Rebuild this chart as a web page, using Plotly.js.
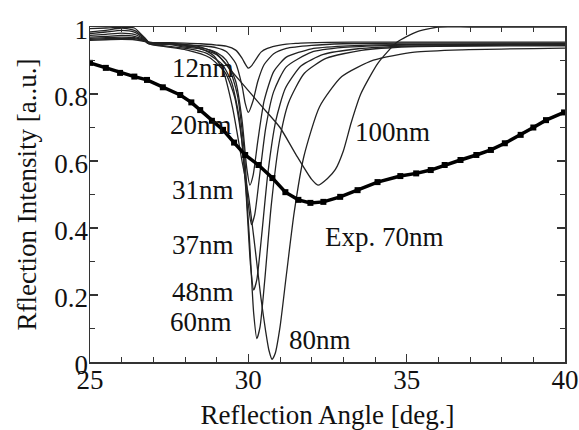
<!DOCTYPE html>
<html>
<head>
<meta charset="utf-8">
<script src="https://cdn.plot.ly/plotly-3.0.1.min.js"></script>
<style>html,body{margin:0;padding:0;background:#fff;}#chart{width:579px;height:430px;}</style>
</head>
<body>
<div id="chart"></div>
<script>
// ---- data ----
const x12 = [25,25.5,26,26.4,26.75,26.85,27.5,28,28.5,29,29.3,29.6,29.8,29.9,30,30.1,30.25,30.4,30.6,31,31.5,32.5,34,37,40];
const y12 = [0.985,0.99,0.997,0.99,0.965,0.955,0.953,0.952,0.95,0.946,0.943,0.931,0.907,0.89,0.877,0.884,0.905,0.925,0.936,0.946,0.951,0.954,0.955,0.955,0.955];

const x20 = [25,25.5,26,26.4,26.75,26.85,27.5,28,28.5,29,29.3,29.6,29.8,29.9,30,30.15,30.3,30.5,30.8,31.2,32,33,35,40];
const y20 = [0.98,0.985,0.99,0.985,0.963,0.954,0.952,0.947,0.944,0.938,0.927,0.892,0.825,0.773,0.745,0.78,0.838,0.888,0.92,0.936,0.945,0.95,0.952,0.952];

const x31 = [25,25.5,26,26.4,26.75,26.85,27.5,28,28.5,29,29.3,29.6,29.8,29.95,30.05,30.15,30.3,30.5,30.8,31.2,32,33,35,40];
const y31 = [0.975,0.978,0.982,0.978,0.961,0.953,0.951,0.943,0.938,0.924,0.901,0.838,0.723,0.579,0.528,0.557,0.66,0.78,0.867,0.91,0.935,0.943,0.948,0.95];

const x37 = [25,25.5,26,26.4,26.75,26.85,27.5,28,28.5,29,29.4,29.65,29.85,30,30.1,30.2,30.35,30.55,30.8,31.2,32,33,35,40];
const y37 = [0.97,0.972,0.975,0.972,0.96,0.952,0.948,0.94,0.934,0.917,0.875,0.799,0.65,0.471,0.41,0.439,0.551,0.699,0.807,0.881,0.925,0.939,0.946,0.948];

const x48 = [25,25.5,26,26.4,26.75,26.85,27.17,28.17,28.67,29.17,29.47,29.72,29.92,30.07,30.17,30.27,30.42,30.62,30.87,31.17,31.67,32.37,33.47,34.97,40];
const y48 = [0.966,0.968,0.97,0.968,0.958,0.951,0.946,0.934,0.922,0.889,0.836,0.724,0.516,0.288,0.215,0.247,0.377,0.566,0.721,0.817,0.884,0.918,0.935,0.943,0.947];

const x60 = [25,25.5,26,26.4,26.75,26.85,26.97,28.07,28.77,29.27,29.57,29.82,30.02,30.17,30.27,30.37,30.52,30.72,30.97,31.27,31.77,32.47,33.57,35.07,40];
const y60 = [0.963,0.965,0.966,0.965,0.957,0.95,0.947,0.931,0.909,0.864,0.79,0.642,0.39,0.144,0.07,0.105,0.246,0.464,0.653,0.774,0.862,0.907,0.93,0.941,0.944];

const x80 = [25,25.5,26,26.4,26.75,26.85,27.5,28,28.5,28.9,29.2,29.5,29.8,30,30.2,30.4,30.55,30.65,30.75,30.85,31,31.2,31.45,31.75,32.25,32.95,33.95,35.25,36.75,40];
const y80 = [0.96,0.962,0.963,0.962,0.956,0.95,0.948,0.945,0.935,0.915,0.87,0.76,0.6,0.5,0.35,0.19,0.09,0.035,0.008,0.026,0.104,0.259,0.448,0.612,0.762,0.852,0.901,0.925,0.932,0.937];

const x100 = [25,25.5,26,26.4,26.75,26.85,27.5,28,28.5,29,29.5,30,30.5,31,31.5,32,32.2,32.5,32.75,33,33.25,33.55,34.1,34.7,35.3,36,37,40];
const y100 = [0.995,0.997,0.999,0.997,0.965,0.955,0.952,0.948,0.94,0.92,0.865,0.81,0.755,0.7,0.62,0.545,0.528,0.548,0.575,0.63,0.715,0.8,0.893,0.955,0.985,1.0,1.0,1.0];

const xExp = [25.0,25.5,25.95,26.4,26.8,27.3,27.85,28.2,28.48,28.85,29.2,29.55,29.9,30.32,30.76,31.17,31.58,31.96,32.37,32.9,33.45,34.08,34.8,35.3,35.76,36.2,36.7,37.2,37.66,38.1,38.6,39.0,39.4,39.97];
const yExp = [0.893,0.878,0.863,0.852,0.842,0.82,0.797,0.775,0.752,0.72,0.693,0.655,0.618,0.588,0.549,0.507,0.484,0.475,0.478,0.493,0.513,0.537,0.555,0.563,0.573,0.588,0.603,0.618,0.633,0.653,0.678,0.7,0.722,0.745];

const labels = ['12nm','20nm','31nm','37nm','48nm','60nm','80nm','100nm','Exp. 70nm'];
const xTickVals = [25,30,35,40];
const yTickVals = [0,0.2,0.4,0.6,0.8,1];
const yTickText = ['0','0.2','0.4','0.6','0.8','1'];

// ---- drawing ----
const FONT = '"Liberation Serif", "Times New Roman", Times, serif';
const FS = 27;
const curves = [[x12,y12],[x20,y20],[x31,y31],[x37,y37],[x48,y48],[x60,y60],[x80,y80],[x100,y100]];
const traces = curves.map((c,i)=>({
  x:c[0], y:c[1], type:'scatter', mode:'lines', name:labels[i],
  line:{color:'#222', width:1.3, shape:'spline', smoothing:0.6},
  hoverinfo:'skip'
}));
traces.push({x:xExp, y:yExp, type:'scatter', mode:'lines+markers', name:labels[8],
  line:{color:'#000', width:3.5}, marker:{symbol:'square', size:6, color:'#000'}});

const annPos = [[27.53,0.878],[27.47,0.707],[27.53,0.513],[27.53,0.349],[27.53,0.209],[27.47,0.119],[31.23,0.066],[33.32,0.687],[32.37,0.373]];
const annotations = labels.map((t,i)=>({
  x:annPos[i][0], y:annPos[i][1], xref:'x', yref:'y', text:t, showarrow:false,
  xanchor:'left', yanchor:'middle', font:{family:FONT, size:FS, color:'#111'}
}));

const axisCommon = {
  showgrid:false, zeroline:false, showline:true, linecolor:'#333', linewidth:1.5,
  mirror:'ticks', ticks:'inside', ticklen:8, tickwidth:1.2, tickcolor:'#333',
  tickfont:{family:FONT, size:FS, color:'#111'}
};
const layout = {
  width:579, height:430, paper_bgcolor:'#fff', plot_bgcolor:'#fff',
  margin:{l:90, r:14, t:27, b:68},
  showlegend:false,
  font:{family:FONT},
  xaxis: Object.assign({}, axisCommon, {
    range:[25,40], tickvals:xTickVals, ticklabelstandoff:-7,
    minor:{dtick:1, ticks:'inside', ticklen:5, tickcolor:'#333', tickwidth:1},
    title:{text:'Reflection Angle [deg.]', font:{family:FONT, size:FS, color:'#111'}, standoff:11},
    automargin:false
  }),
  yaxis: Object.assign({}, axisCommon, {
    range:[0,1], tickvals:yTickVals, ticktext:yTickText, ticklabelstandoff:-5, ticklabelshift:3,
    minor:{dtick:0.1, ticks:'inside', ticklen:5, tickcolor:'#333', tickwidth:1},
    title:{text:'Rflection Intensity [a..u.]', font:{family:FONT, size:FS, color:'#111'}, standoff:10},
    automargin:false
  }),
  annotations: annotations
};
Plotly.newPlot('chart', traces, layout, {staticPlot:true, displayModeBar:false});
</script>
</body>
</html>
